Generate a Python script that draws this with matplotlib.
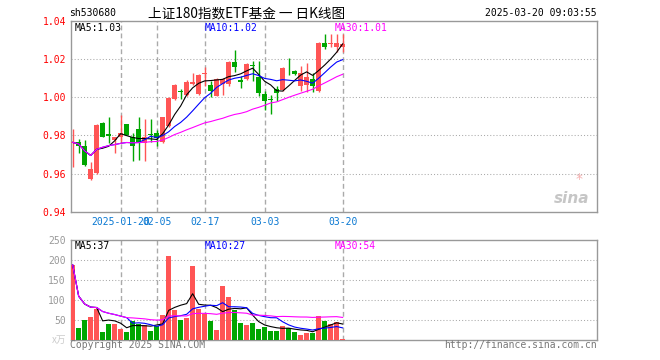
import numpy as np
import pandas as pd
import matplotlib
matplotlib.use('Agg')
import matplotlib.pyplot as plt

# ==== data ====
openp = [0.9760, 0.9767, 0.9744, 0.9570, 0.9603, 0.9867, 0.9805, 0.9775, 0.9790, 0.9857,
         0.9793, 0.9833, 0.9760, 0.9806, 0.9812, 0.9767, 0.9849, 0.9991, 1.0030, 1.0009,
         1.0067, 1.0015, 1.0119, 1.0065, 1.0008, 1.0068, 1.0066, 1.0185, 1.0088, 1.0093,
         1.0167, 1.0105, 1.0018, 0.9988, 1.0042, 1.0035, 1.0160, 1.0139, 1.0056, 1.0065,
         1.0095, 1.0030, 1.0284, 1.0279, 1.0263, 1.0263]
high = [0.9832, 0.9779, 0.9775, 0.9661, 0.9857, 0.9870, 0.9898, 0.9793, 0.9907, 0.9860,
        0.9810, 0.9898, 0.9884, 0.9884, 0.9828, 0.9897, 0.9999, 1.0068, 1.0044, 1.0090,
        1.0126, 1.0122, 1.0158, 1.0082, 1.0098, 1.0098, 1.0190, 1.0245, 1.0110, 1.0178,
        1.0188, 1.0188, 1.0030, 1.0012, 1.0056, 1.0155, 1.0205, 1.0142, 1.0161, 1.0179,
        1.0126, 1.0286, 1.0328, 1.0328, 1.0328, 1.0328]
low = [0.9635, 0.9709, 0.9639, 0.9565, 0.9600, 0.9790, 0.9758, 0.9709, 0.9758, 0.9800,
       0.9667, 0.9670, 0.9667, 0.9766, 0.9742, 0.9761, 0.9845, 0.9985, 0.9990, 1.0005,
       1.0062, 1.0010, 1.0056, 1.0002, 1.0005, 1.0012, 1.0060, 1.0130, 1.0048, 1.0090,
       1.0082, 1.0004, 0.9930, 0.9911, 0.9977, 1.0030, 1.0114, 1.0118, 1.0030, 1.0025,
       1.0025, 1.0025, 1.0253, 1.0263, 1.0235, 1.0235]
close = [0.9763, 0.9746, 0.9646, 0.9623, 0.9854, 0.9793, 0.9796, 0.9790, 0.9810, 0.9802,
         0.9746, 0.9767, 0.9790, 0.9802, 0.9786, 0.9895, 0.9997, 1.0065, 1.0025, 1.0079,
         1.0077, 1.0115, 1.0128, 1.0034, 1.0095, 1.0093, 1.0185, 1.0156, 1.0080, 1.0173,
         1.0163, 1.0021, 0.9977, 0.9985, 1.0021, 1.0153, 1.0156, 1.0121, 1.0126, 1.0105,
         1.0060, 1.0284, 1.0263, 1.0282, 1.0284, 1.0280]
volume = [187.5, 30, 50, 57.5, 76.7, 20, 40, 40, 27.5, 20,
          47.5, 40, 37.5, 22.5, 35, 60.8, 210, 75, 50, 55,
          185, 77.5, 65, 47.5, 25, 135, 108, 75, 42.5, 37.5,
          42.5, 27.5, 32.5, 22.5, 22.5, 35, 30, 20, 12.5, 17.5,
          17.5, 60, 47.5, 40, 45, 2]

dates = pd.bdate_range('2025-01-08', '2025-03-20')
dates = dates[(dates < '2025-01-28') | (dates > '2025-02-04')]
tick_dates = ['2025-01-20', '2025-02-05', '2025-02-17', '2025-03-03', '2025-03-20']

price_ma_labels = ['MA5:1.03', 'MA10:1.02', 'MA30:1.01']
vol_ma_labels = ['MA5:37', 'MA10:27', 'MA30:54']

# ==== setup ====
RED, GREEN = '#ff5555', '#00a600'
MA_COLORS = ['black', '#0000ff', '#ff00ff']
GRIDC = '#aaaaaa'
MONO = 'DejaVu Sans Mono'
W, H = 660, 360

o = np.array(openp); c = np.array(close)
hi = np.array(high); lo = np.array(low)
v = np.array(volume)
x = np.arange(len(c))
cols = np.where(c >= o, RED, GREEN)
tick_pos = [int(np.where(dates == pd.Timestamp(d))[0][0]) for d in tick_dates]
tick_txt = [pd.Timestamp(d).strftime('%Y-%m-%d') if k == 0 else pd.Timestamp(d).strftime('%m-%d')
            for k, d in enumerate(tick_dates)]

fig = plt.figure(figsize=(6.6, 3.6), dpi=100)
fig.patch.set_facecolor('white')

def px_box(l, t, r, b):
    return [l / W, 1 - b / H, (r - l) / W, (b - t) / H]

ax = fig.add_axes(px_box(70.7, 20.7, 597, 211.7))
axv = fig.add_axes(px_box(70.7, 240, 597, 339.5))

xlim = (-0.33, 87.4)

def style(a):
    for s in a.spines.values():
        s.set_color('#999999')
        s.set_linewidth(1)
    a.set_xlim(*xlim)
    a.tick_params(length=0)
    for p in tick_pos:
        a.axvline(p, color=GRIDC, lw=1, ls=(0, (3.5, 2.2)), zorder=0)

# ==== price panel ====
style(ax)
ax.set_ylim(0.94, 1.04)
for yv in [0.96, 0.98, 1.00, 1.02]:
    ax.axhline(yv, color=GRIDC, lw=0.75, ls=(0, (1, 2)), zorder=0)
ax.vlines(x, lo, hi, color=cols, lw=1, zorder=2)
body = np.maximum(np.abs(c - o), 0.0004)
ax.bar(x, body, bottom=np.minimum(o, c), width=0.8, color=cols, zorder=3)
cs = pd.Series(c)
for n, col in zip([5, 10, 30], MA_COLORS):
    ax.plot(x, cs.rolling(n, min_periods=1).mean(), color=col, lw=0.8, zorder=4)
ax.set_yticks([0.94, 0.96, 0.98, 1.00, 1.02, 1.04])
ax.set_yticklabels(['%.2f' % t for t in ax.get_yticks()], color='#ff0000',
                   fontsize=7, family=MONO)
ax.set_xticks(tick_pos)
ax.set_xticklabels(tick_txt, color='#0a78d2', fontsize=7, family=MONO)
ax.tick_params(axis='y', pad=3.4)
ax.tick_params(axis='x', pad=4)
for lab, col, px in zip(price_ma_labels, MA_COLORS, [75, 205, 335]):
    ax.text((px - 70.7) / (597 - 70.7), 0.96, lab, transform=ax.transAxes, color=col,
            fontsize=7, family=MONO, ha='left', va='center')

# sina watermark
ax.text(0.985, 0.07, 'sina', transform=ax.transAxes, color='#c0c0c0', fontsize=11,
        fontweight='bold', style='italic', ha='right', va='center', alpha=0.9)
ax.text(0.965, 0.17, '*', transform=ax.transAxes, color='#f4b0b0', fontsize=10,
        ha='center', va='center')

# ==== volume panel ====
style(axv)
axv.set_ylim(0, 250)
for yv in [50, 100, 150, 200]:
    axv.axhline(yv, color=GRIDC, lw=0.75, ls=(0, (1, 2)), zorder=0)
axv.bar(x, v, width=0.75, color=cols, zorder=3)
vs = pd.Series(v)
for n, col in zip([5, 10, 30], MA_COLORS):
    axv.plot(x, vs.rolling(n, min_periods=1).mean(), color=col, lw=0.8, zorder=4)
axv.set_yticks([50, 100, 150, 200, 250])
axv.set_yticklabels(['50', '100', '150', '200', '250'], color='#999999',
                    fontsize=7, family=MONO)
axv.tick_params(axis='y', pad=3.4)
axv.set_xticks(tick_pos)
axv.set_xticklabels([])
for lab, col, px in zip(vol_ma_labels, MA_COLORS, [75, 205, 335]):
    axv.text((px - 70.7) / (597 - 70.7), 0.935, lab, transform=axv.transAxes, color=col,
             fontsize=7, family=MONO, ha='left', va='center')

# ==== header / footer text ====
def ftext(px, py, s, **kw):
    fig.text(px / W, 1 - py / H, s, **kw)

ftext(69.5, 13.5, 'sh530680', fontsize=7, family=MONO, color='black', va='center')
ftext(247, 13, '上证180指数ETF基金 一 日K线图', fontsize=9.8,
      family=['Noto Sans CJK SC', 'DejaVu Sans'], color='black', ha='center', va='center')
ftext(597, 13.5, '2025-03-20 09:03:55', fontsize=7, family=MONO, color='black',
      ha='right', va='center')
ftext(66, 340, 'x万', fontsize=7, family=['Noto Sans CJK SC', 'DejaVu Sans'],
      color='#cccccc', ha='right', va='center', style='italic')
ftext(70, 345.5, 'Copyright 2025 SINA.COM', fontsize=7, family=MONO, color='#777777',
      va='center')
ftext(597, 345.5, 'http://finance.sina.com.cn', fontsize=7, family=MONO, color='#777777',
      ha='right', va='center')

fig.savefig('out.png', dpi=100)
